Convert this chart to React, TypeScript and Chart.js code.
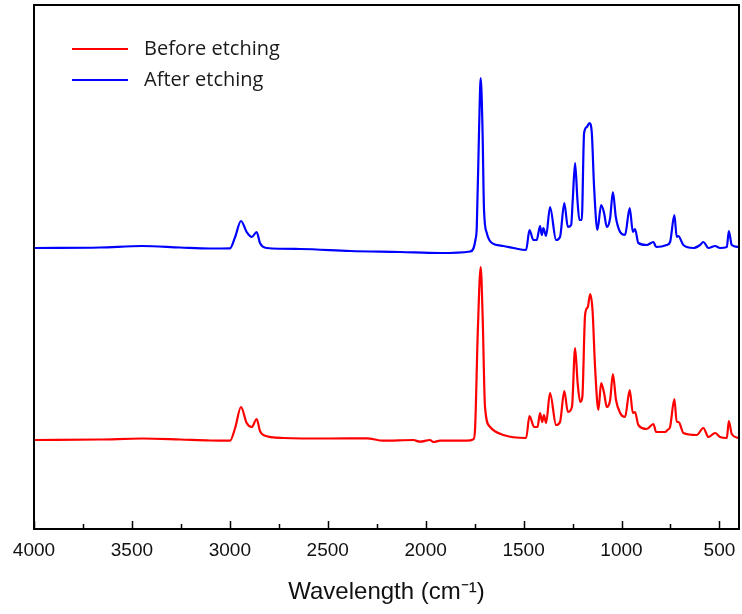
import React, { useEffect, useRef } from "react";
import { Chart, registerables } from "chart.js";

Chart.register(...registerables);

const xTickValues = [4000, 3500, 3000, 2500, 2000, 1500, 1000, 500];
const xMinorTickValues = [3750, 3250, 2750, 2250, 1750, 1250, 750];
const seriesLabels = ["Before etching", "After etching"];
const seriesColors = ["#ff0000", "#0000ff"];
const axisTitle = "Wavelength (cm\u207B\u00B9)";

const beforeWavenumber = [
  3995, 3663, 3448, 3254, 3101, 2999, 2973, 2943, 2914, 2888,
  2863, 2846, 2829, 2728, 2488, 2301, 2216, 2063, 2029, 1978,
  1961, 1926, 1790, 1756, 1748, 1734, 1719, 1709, 1697, 1671,
  1603, 1487, 1470, 1446, 1429, 1416, 1405, 1396, 1385, 1365,
  1334, 1314, 1292, 1274, 1253, 1237, 1224, 1211, 1200, 1186,
  1172, 1160, 1148, 1135, 1118, 1104, 1089, 1075, 1058, 1044,
  1028, 1007, 982, 958, 942, 931, 914, 871, 837, 823,
  777, 765, 752, 730, 718, 708, 684, 616, 582, 556,
  522, 497, 462, 452, 437, 403,
];
const beforeIntensity = [
  89, 89.5, 90.5, 89.5, 88.5, 88.3, 101, 122, 106, 102,
  110, 98, 94, 91, 90.5, 90.7, 88.3, 89, 87.3, 89,
  87, 88.3, 88.3, 89.7, 99, 196, 262, 212, 122, 102,
  94, 91, 113, 102, 102, 116, 107, 114, 106, 136,
  104, 107, 138, 117, 122, 181, 146, 127, 132, 214,
  222, 235, 219, 162, 119, 146, 136, 122, 129, 155,
  129, 116, 112, 139, 116, 117, 104, 100, 105, 97,
  97, 99, 102, 130, 107, 107, 96, 94, 101, 92,
  96, 92, 91, 108, 95, 91,
];

const afterWavenumber = [
  3995, 3663, 3448, 3254, 3101, 2999, 2973, 2943, 2914, 2888,
  2863, 2846, 2812, 2641, 2386, 2131, 1926, 1773, 1756, 1746,
  1739, 1727, 1719, 1710, 1702, 1688, 1662, 1603, 1552, 1487,
  1470, 1450, 1433, 1416, 1407, 1399, 1385, 1365, 1334, 1314,
  1292, 1274, 1257, 1249, 1237, 1225, 1215, 1203, 1191, 1177,
  1164, 1152, 1140, 1123, 1104, 1089, 1075, 1058, 1044, 1029,
  1007, 982, 958, 942, 931, 914, 871, 837, 823, 769,
  752, 730, 718, 710, 684, 633, 599, 582, 556, 522,
  497, 462, 452, 437, 403,
];
const afterIntensity = [
  281, 281.5, 283, 281.5, 280.5, 280.7, 292, 308, 297, 292,
  297, 286, 281, 280, 278, 277, 276, 277.5, 280.5, 289,
  302, 402, 451, 402, 319, 296, 286, 283, 281, 279,
  299, 289, 289, 303, 294, 301, 293, 322, 289, 292,
  326, 302, 304, 329, 366, 329, 309, 309, 396, 402,
  406, 397, 342, 299, 324, 316, 302, 311, 337, 312,
  297, 294, 321, 297, 300, 286, 284, 287, 282, 284,
  287, 314, 292, 293, 284, 281, 284, 287, 281, 283,
  281, 282, 298, 284, 282,
];

const toPoints = (xs: number[], ys: number[]) => xs.map((x, i) => ({ x, y: ys[i] }));

const framePlugin = {
  id: "frameAndLegend",
  afterDraw(chart: any) {
    const { ctx, chartArea: a, scales } = chart;
    const xs = scales.x;
    ctx.save();
    ctx.strokeStyle = "#000";
    ctx.lineWidth = 1.5;
    ctx.beginPath();
    xTickValues.forEach((v) => {
      const px = Math.round(xs.getPixelForValue(v)) + 0.5;
      ctx.moveTo(px, a.bottom);
      ctx.lineTo(px, a.bottom - 8);
    });
    xMinorTickValues.forEach((v) => {
      const px = Math.round(xs.getPixelForValue(v)) + 0.5;
      ctx.moveTo(px, a.bottom);
      ctx.lineTo(px, a.bottom - 5);
    });
    ctx.stroke();
    ctx.lineWidth = 2;
    ctx.strokeRect(a.left, a.top, a.right - a.left, a.bottom - a.top);
    ctx.font = "20px 'Open Sans', 'Noto Sans', sans-serif";
    ctx.textBaseline = "middle";
    ctx.textAlign = "left";
    chart.data.datasets.forEach((ds: any, i: number) => {
      const y = a.top + 44 + i * 31;
      ctx.strokeStyle = ds.borderColor;
      ctx.lineWidth = 2;
      ctx.beginPath();
      ctx.moveTo(a.left + 38, y);
      ctx.lineTo(a.left + 94, y);
      ctx.stroke();
      ctx.fillStyle = "#1a1a1a";
      ctx.fillText(ds.label, a.left + 110, y);
    });
    ctx.restore();
  },
};

export default function App() {
  const canvasRef = useRef<HTMLCanvasElement | null>(null);

  useEffect(() => {
    if (!canvasRef.current) return;
    const chart = new Chart(canvasRef.current, {
      type: "line",
      data: {
        datasets: [
          {
            label: seriesLabels[0],
            data: toPoints(beforeWavenumber, beforeIntensity),
            borderColor: seriesColors[0],
            backgroundColor: seriesColors[0],
            borderWidth: 2.2,
            pointRadius: 0,
            cubicInterpolationMode: "monotone",
          },
          {
            label: seriesLabels[1],
            data: toPoints(afterWavenumber, afterIntensity),
            borderColor: seriesColors[1],
            backgroundColor: seriesColors[1],
            borderWidth: 2.2,
            pointRadius: 0,
            cubicInterpolationMode: "monotone",
          },
        ],
      },
      options: {
        animation: false,
        responsive: false,
        devicePixelRatio: 1,
        layout: { padding: { left: 34, right: 3, top: 5, bottom: 0 } },
        plugins: {
          legend: { display: false },
          tooltip: { enabled: false },
        },
        scales: {
          x: {
            type: "linear",
            reverse: true,
            min: 400,
            max: 4000,
            afterBuildTicks: (scale: any) => {
              scale.ticks = xTickValues.map((v) => ({ value: v }));
            },
            afterFit: (scale: any) => {
              scale.height = 85;
              scale.paddingLeft = 0;
              scale.paddingRight = 0;
            },
            grid: { display: false, drawTicks: false },
            border: { display: false },
            ticks: {
              autoSkip: false,
              maxRotation: 0,
              padding: 10,
              color: "#111",
              font: { family: "'Liberation Sans', Arial, sans-serif", size: 19 },
              callback: (value: any) => String(value),
            },
            title: {
              display: true,
              text: axisTitle,
              color: "#111",
              font: { family: "'Liberation Sans', Arial, sans-serif", size: 24 },
              padding: { top: 0, bottom: 7 },
            },
          },
          y: {
            type: "linear",
            display: false,
            min: 0,
            max: 524,
          },
        },
      },
      plugins: [framePlugin],
    } as any);
    return () => chart.destroy();
  }, []);

  return (
    <div style={{ position: "absolute", left: 0, top: 0, width: 742, height: 614, background: "#fff" }}>
      <canvas ref={canvasRef} width={742} height={614} />
    </div>
  );
}
